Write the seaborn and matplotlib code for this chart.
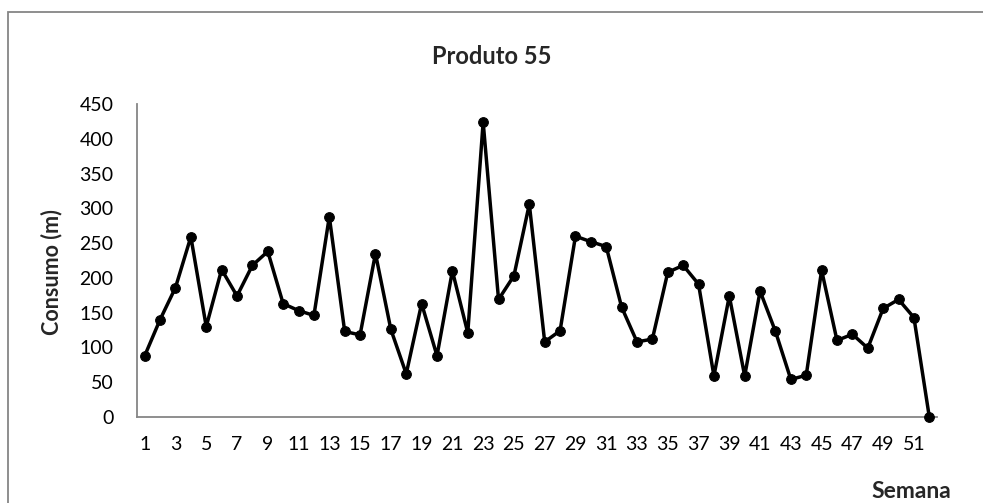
import numpy as np
import pandas as pd
import seaborn as sns
import matplotlib
matplotlib.use("Agg")
import matplotlib.pyplot as plt
from matplotlib.patches import Rectangle

# Weekly consumption (metres) of product 55
semanas = list(range(1, 53))
consumo = [88, 140, 186, 259, 130, 212, 174, 218, 238, 163, 153, 146, 288, 123,
           118, 235, 126, 62, 163, 88, 210, 121, 424, 169, 203, 306, 108, 124,
           260, 252, 245, 158, 108, 112, 208, 218, 191, 59, 174, 59, 181, 123,
           54, 60, 211, 110, 119, 99, 156, 169, 143, 0]
y_ticks = [0, 50, 100, 150, 200, 250, 300, 350, 400, 450]
x_ticks = list(range(1, 53, 2))

titulo = "Produto 55"
rotulo_x = "Semana"
rotulo_y = "Consumo (m)"

df = pd.DataFrame({"Semana": semanas, "Consumo": consumo})

sns.set_style("white")
plt.rcParams["font.family"] = ["Lato", "DejaVu Sans"]

fig = plt.figure(figsize=(9.83, 5.03), dpi=100)
ax = fig.add_axes([137 / 983, 1 - 417 / 503, 800 / 983, 313 / 503])

sns.lineplot(data=df, x="Semana", y="Consumo", ax=ax, color="black",
             linewidth=2.5, marker="o", markersize=7,
             markeredgecolor="black", markerfacecolor="black")
for ln in ax.lines:
    ln.set_clip_on(False)
    ln.set_zorder(5)

ax.set_xlim(0.5, 52.5)
ax.set_ylim(0, 450)
ax.set_xticks(x_ticks)
ax.set_xticklabels([str(t) for t in x_ticks])
ax.set_yticks(y_ticks)
ax.set_yticklabels([str(t) for t in y_ticks])
ax.tick_params(axis="both", length=0, labelsize=14, colors="black")
ax.tick_params(axis="x", pad=14)
ax.tick_params(axis="y", pad=17)
ax.set_xlabel("")
ax.set_ylabel("")

for side in ("top", "right"):
    ax.spines[side].set_visible(False)
for side in ("left", "bottom"):
    ax.spines[side].set_color("#868686")
    ax.spines[side].set_linewidth(1.3)

fig.text(492 / 983, 1 - 57 / 503, titulo, ha="center", va="center",
         fontsize=17, fontweight="bold")
fig.text(911 / 983, 1 - 492 / 503, rotulo_x, ha="center", va="center",
         fontsize=16.5, fontweight="bold")
fig.text(52 / 983, 1 - 272 / 503, rotulo_y, ha="center", va="center",
         rotation=90, fontsize=15.5, fontweight="bold")

# chart frame, open past the right and bottom edges
fig.patches.append(Rectangle((8 / 983, -0.05), 1.2, 1 - 12 / 503 + 0.05,
                             transform=fig.transFigure, fill=False,
                             edgecolor="#868686", linewidth=1.3))

fig.savefig("out.png", dpi=100)
